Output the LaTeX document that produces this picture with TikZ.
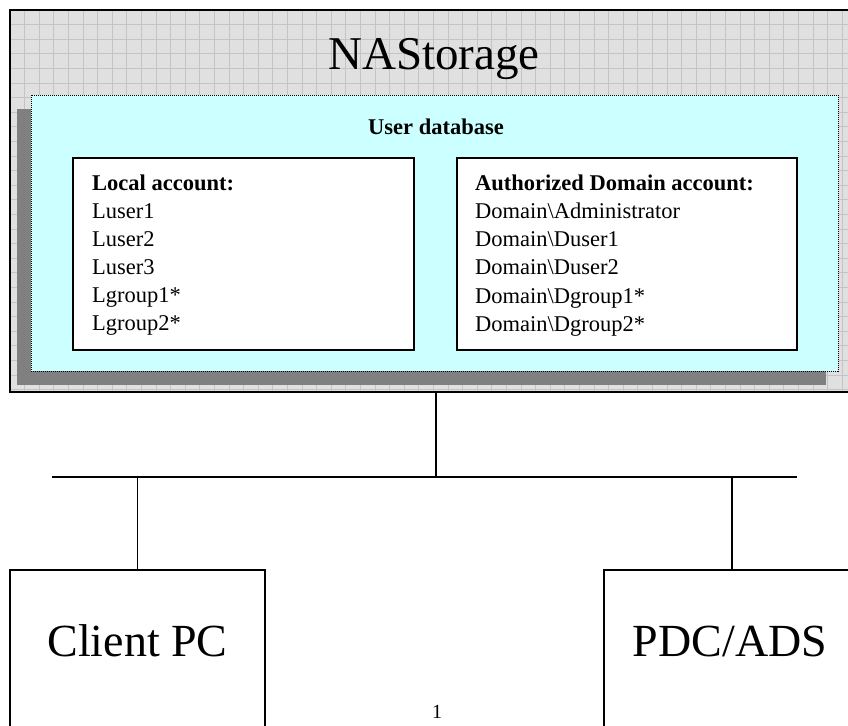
\documentclass[tikz,border=0pt]{standalone}
\usepackage{fontspec}
\setmainfont{Liberation Serif}
\definecolor{gridbg}{HTML}{E0E0E0}
\definecolor{gridln}{HTML}{C4C4C4}
\definecolor{cyanbg}{HTML}{CCFFFF}
\definecolor{shadowgray}{HTML}{808080}
\tikzset{
  boxline/.style={draw=black, line width=1.6pt, inner sep=0pt, outer sep=0pt},
  acctbox/.style={boxline, fill=white, minimum width=341pt, minimum height=192pt},
  accttxt/.style={font=\fontsize{22.5}{27}\selectfont, anchor=base west, inner sep=0pt},
  accthead/.style={accttxt, font=\bfseries\fontsize{22.5}{27}\selectfont},
  bigtxt/.style={font=\fontsize{46}{50}\selectfont, anchor=base, inner sep=0pt},
  conn/.style={draw=black, line width=1.5pt},
  gridstroke/.style={draw=gridln, line width=0.8pt}
}
\begin{document}
\begin{tikzpicture}[x=1pt,y=-1pt]
\useasboundingbox (0,0) rectangle (848,725);
\clip (0,0) rectangle (848,725);
% NAStorage background with grid
\fill[gridbg] (10,10) rectangle (862,392);
\begin{scope}
  \clip (10,10) rectangle (862,392);
  \foreach \i in {0,...,58} \draw[gridstroke] ({24.6+14.6*\i},10) -- ++(0,382);
  \foreach \i in {0,...,26} \draw[gridstroke] (10,{24.6+14.6*\i}) -- ++(852,0);
\end{scope}
\node[boxline, minimum width=852pt, minimum height=382pt] (nas) at (436,201) {};
\node[bigtxt, font=\fontsize{47}{50}\selectfont] (nastitle) at (434,70) {NAStorage};
% user database
\fill[shadowgray] (17,109) rectangle (826,385);
\node[fill=cyanbg, draw=black, line width=1pt, dash pattern=on 1pt off 1pt,
      minimum width=807pt, minimum height=276pt, inner sep=0pt, outer sep=0pt] (db) at (434.5,233) {};
\node[font=\bfseries\fontsize{22.5}{27}\selectfont, anchor=base, inner sep=0pt] (dbtitle) at (436,134) {User database};
% account boxes
\node[acctbox] (local) at (243.5,254) {};
\node[acctbox, minimum width=340pt] (auth) at (627,254) {};
\node[accthead] (lochead) at (92,190) {Local account:};
\foreach [count=\k] \t in {Luser1,Luser2,Luser3,Lgroup1*,Lgroup2*}
  \node[accttxt] (loc\k) at (92,{190+28*\k}) {\t};
\node[accthead] (authhead) at (475,190) {Authorized Domain account:};
\foreach [count=\k] \t in {Administrator,Duser1,Duser2,Dgroup1*,Dgroup2*}
  \node[accttxt] (dom\k) at (475,{190+28.3*\k}) {Domain\textbackslash\t};
% lower machines
\node[draw=black, line width=1.5pt, minimum width=255pt, minimum height=260pt, inner sep=0pt, outer sep=0pt] (client) at (137.5,700) {};
\node[draw=black, line width=1.5pt, minimum width=256pt, minimum height=260pt, inner sep=0pt, outer sep=0pt] (pdc) at (732,700) {};
\node[bigtxt] (clienttxt) at (137.5,656) {Client PC};
\node[bigtxt] (pdctxt) at (730,656) {PDC/ADS};
% bus
\coordinate (busL) at (52,477);
\coordinate (busR) at (797,477);
\draw[conn] (nas.south) -- (nas.south |- busL);
\draw[conn] (busL) -- (busR);
\draw[conn] (client.north |- busL) -- (client.north);
\draw[conn] (pdc.north |- busL) -- (pdc.north);
\node[font=\fontsize{20}{24}\selectfont, anchor=base, inner sep=0pt] (pagenum) at (437,718) {1};
\end{tikzpicture}
\end{document}
